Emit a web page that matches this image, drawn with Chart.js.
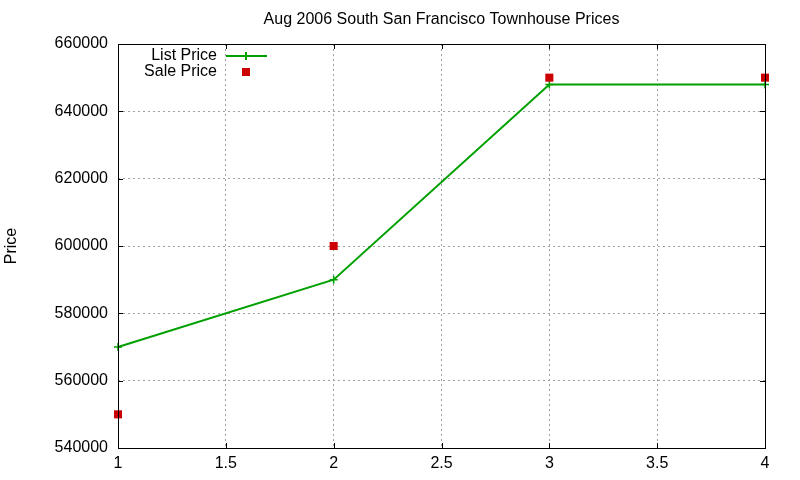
<!DOCTYPE html>
<html>
<head>
<meta charset="utf-8">
<script src="https://cdn.jsdelivr.net/npm/chart.js@4/dist/chart.umd.min.js"></script>
<style>
  html, body { margin: 0; padding: 0; background: #fff; }
  #wrap { width: 800px; height: 480px; }
</style>
</head>
<body>
<div id="wrap"><canvas id="chart" width="800" height="480"></canvas></div>
<script>
const units = [1, 2, 3, 4];
const listPrices = [570000, 590000, 648000, 648000];
const salePrices = [550000, 600000, 650000, 650000];
const xTicks = [1, 1.5, 2, 2.5, 3, 3.5, 4];
const yTicks = [540000, 560000, 580000, 600000, 620000, 640000, 660000];
const chartTitle = 'Aug 2006 South San Francisco Townhouse Prices';

const FONT = 'Liberation Sans';

// gnuplot-style frame with inward ticks, title over the plot and a top-left key
const gnuplotFrame = {
    id: 'gnuplotFrame',
    afterDatasetsDraw(chart) {
        const { ctx, chartArea: a, scales } = chart;
        ctx.save();
        ctx.strokeStyle = '#000';
        ctx.lineWidth = 1;
        ctx.beginPath();
        xTicks.forEach(v => {
            const x = Math.round(scales.x.getPixelForValue(v)) + 0.5;
            ctx.moveTo(x, a.bottom); ctx.lineTo(x, a.bottom - 5);
            ctx.moveTo(x, a.top); ctx.lineTo(x, a.top + 5);
        });
        yTicks.forEach(v => {
            const y = Math.round(scales.y.getPixelForValue(v)) + 0.5;
            ctx.moveTo(a.left, y); ctx.lineTo(a.left + 5, y);
            ctx.moveTo(a.right, y); ctx.lineTo(a.right - 5, y);
        });
        ctx.stroke();
        ctx.strokeRect(Math.round(a.left) + 0.5, Math.round(a.top) + 0.5,
            Math.round(a.right - a.left), Math.round(a.bottom - a.top));

        ctx.font = '16px "' + FONT + '"';
        ctx.fillStyle = '#000';
        ctx.textBaseline = 'middle';

        // title, centred on the plot area
        ctx.textAlign = 'center';
        ctx.fillText(chartTitle, (a.left + a.right) / 2, 20);

        // key
        ctx.textAlign = 'right';
        ctx.fillText('List Price', 217, 56);
        ctx.fillText('Sale Price', 217, 72);
        ctx.strokeStyle = '#00a000';
        ctx.lineWidth = 2;
        ctx.beginPath();
        ctx.moveTo(226, 56); ctx.lineTo(267, 56);
        ctx.moveTo(246, 52); ctx.lineTo(246, 60);
        ctx.stroke();
        ctx.fillStyle = '#cc0000';
        ctx.fillRect(242, 68, 8, 8);
        ctx.restore();
    }
};

new Chart(document.getElementById('chart'), {
    type: 'scatter',
    data: {
        datasets: [{
            label: 'List Price',
            data: units.map((u, i) => ({ x: u, y: listPrices[i] })),
            showLine: true,
            borderColor: '#00a000',
            backgroundColor: '#00a000',
            borderWidth: 2,
            pointStyle: 'cross',
            pointRadius: 4,
            pointBorderWidth: 1.5,
            order: 2
        }, {
            label: 'Sale Price',
            data: units.map((u, i) => ({ x: u, y: salePrices[i] })),
            showLine: false,
            borderColor: '#cc0000',
            backgroundColor: '#cc0000',
            pointStyle: 'rect',
            pointRadius: 5.7,
            pointBorderWidth: 0,
            order: 1
        }]
    },
    options: {
        responsive: false,
        animation: false,
        devicePixelRatio: 1,
        layout: { padding: { left: 0, right: 35, top: 44, bottom: 0 } },
        clip: false,
        scales: {
            x: {
                type: 'linear',
                min: 1,
                max: 4,
                afterBuildTicks: s => { s.ticks = xTicks.map(v => ({ value: v })); },
                afterFit: s => { s.height = 32; },
                border: { display: false, dash: [2, 3] },
                grid: {
                    color: '#a0a0a0',
                    lineWidth: 1,
                    drawTicks: false
                },
                ticks: {
                    padding: 6,
                    color: '#000',
                    font: { family: FONT, size: 16 },
                    callback: v => String(v)
                }
            },
            y: {
                min: 540000,
                max: 660000,
                afterBuildTicks: s => { s.ticks = yTicks.map(v => ({ value: v })); },
                afterFit: s => { s.width = 118; },
                border: { display: false, dash: [2, 3] },
                grid: {
                    color: '#a0a0a0',
                    lineWidth: 1,
                    drawTicks: false
                },
                ticks: {
                    padding: 10,
                    color: '#000',
                    font: { family: FONT, size: 16 },
                    callback: v => String(v)
                },
                title: {
                    display: true,
                    text: 'Price',
                    color: '#000',
                    font: { family: FONT, size: 16 },
                    padding: { top: 2, bottom: 0 }
                }
            }
        },
        plugins: {
            legend: { display: false },
            tooltip: { enabled: false },
            title: { display: false }
        }
    },
    plugins: [gnuplotFrame]
});
</script>
</body>
</html>
